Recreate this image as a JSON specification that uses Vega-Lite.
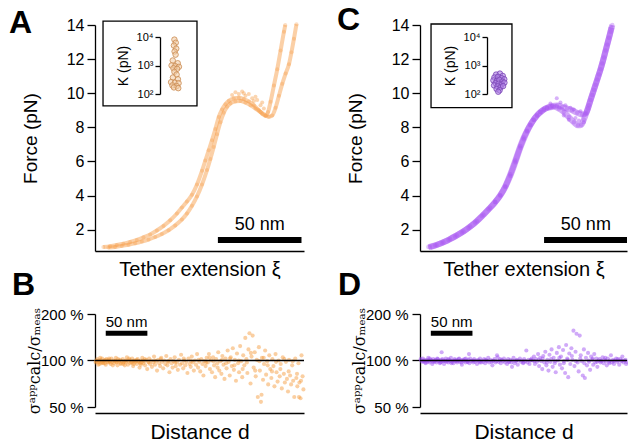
{
"$schema": "https://vega.github.io/schema/vega-lite/v6.json",
"background": "white",
"padding": {"left": 9, "top": 4, "right": 0, "bottom": 0},
"config": {
 "font": "Liberation Sans",
 "view": {"stroke": null},
 "axis": {"domainColor": "black", "tickColor": "black", "labelColor": "black", "titleColor": "black", "domainWidth": 1.3, "tickWidth": 1.3, "grid": false, "labelFont": "Liberation Sans", "titleFont": "Liberation Sans", "titleFontWeight": "normal", "labelOverlap": false},
 "title": {"font": "Liberation Sans", "fontSize": 32, "fontWeight": "bold", "anchor": "start", "frame": "group", "color": "black"}
},
"datasets": {
 "curveA": [
  {"t":1,"x":5,"y":0.98},{"t":1,"x":9,"y":1.03},{"t":1,"x":13,"y":1.1},{"t":1,"x":17,"y":1.18},{"t":1,"x":21,"y":1.28},{"t":1,"x":25,"y":1.4},{"t":1,"x":29,"y":1.55},{"t":1,"x":33,"y":1.72},{"t":1,"x":37,"y":1.95},{"t":1,"x":41,"y":2.22},{"t":1,"x":45,"y":2.55},{"t":1,"x":49,"y":2.95},{"t":1,"x":52,"y":3.3},{"t":1,"x":55,"y":3.65},{"t":1,"x":58,"y":4.05},{"t":1,"x":61,"y":4.65},{"t":1,"x":64,"y":5.45},{"t":1,"x":66,"y":6.05},{"t":1,"x":68,"y":6.65},{"t":1,"x":70,"y":7.25},{"t":1,"x":72,"y":7.9},{"t":1,"x":74,"y":8.6},{"t":1,"x":76,"y":9.05},{"t":1,"x":78,"y":9.35},{"t":1,"x":80,"y":9.55},{"t":1,"x":83,"y":9.7},{"t":1,"x":86,"y":9.73},{"t":1,"x":89,"y":9.66},{"t":1,"x":92,"y":9.52},{"t":1,"x":95,"y":9.3},{"t":1,"x":98,"y":9.0},{"t":1,"x":100,"y":8.8},{"t":1,"x":102,"y":8.68},{"t":1,"x":103.5,"y":8.9},{"t":1,"x":105,"y":9.5},{"t":1,"x":107,"y":10.45},{"t":1,"x":109,"y":11.4},{"t":1,"x":111,"y":12.5},{"t":1,"x":113,"y":13.6},{"t":1,"x":113.8,"y":14.0},
  {"t":2,"x":8,"y":0.95},{"t":2,"x":12,"y":0.99},{"t":2,"x":16,"y":1.05},{"t":2,"x":20,"y":1.12},{"t":2,"x":24,"y":1.2},{"t":2,"x":28,"y":1.3},{"t":2,"x":32,"y":1.42},{"t":2,"x":36,"y":1.57},{"t":2,"x":40,"y":1.75},{"t":2,"x":44,"y":1.97},{"t":2,"x":48,"y":2.25},{"t":2,"x":52,"y":2.6},{"t":2,"x":55,"y":2.95},{"t":2,"x":58,"y":3.4},{"t":2,"x":61,"y":3.95},{"t":2,"x":64,"y":4.65},{"t":2,"x":67,"y":5.5},{"t":2,"x":69,"y":6.15},{"t":2,"x":71,"y":6.85},{"t":2,"x":73,"y":7.6},{"t":2,"x":75,"y":8.3},{"t":2,"x":77,"y":8.85},{"t":2,"x":79,"y":9.2},{"t":2,"x":81,"y":9.4},{"t":2,"x":84,"y":9.52},{"t":2,"x":87,"y":9.55},{"t":2,"x":90,"y":9.45},{"t":2,"x":93,"y":9.3},{"t":2,"x":96,"y":9.1},{"t":2,"x":99,"y":8.9},{"t":2,"x":102,"y":8.7},{"t":2,"x":104,"y":8.62},{"t":2,"x":106,"y":8.7},{"t":2,"x":108,"y":9.15},{"t":2,"x":110,"y":9.85},{"t":2,"x":112,"y":10.55},{"t":2,"x":114,"y":11.15},{"t":2,"x":116,"y":11.7},{"t":2,"x":117.5,"y":12.4},{"t":2,"x":119,"y":13.2},{"t":2,"x":120.5,"y":14.05}
 ],
 "plateauA": [
  {"x":82,"y":9.9},{"x":84,"y":10.05},{"x":86,"y":9.95},{"x":88,"y":10.1},{"x":90,"y":9.85},{"x":92,"y":9.95},{"x":94,"y":9.7},{"x":95,"y":9.55},{"x":97,"y":9.6},{"x":99,"y":9.3},{"x":100,"y":9.45},{"x":101,"y":9.1},{"x":96,"y":9.8},{"x":89,"y":10.0}
 ],
 "curveC": [
  {"t":1,"x":5,"y":0.98},{"t":1,"x":9,"y":1.08},{"t":1,"x":13,"y":1.22},{"t":1,"x":17,"y":1.4},{"t":1,"x":21,"y":1.6},{"t":1,"x":25,"y":1.83},{"t":1,"x":29,"y":2.1},{"t":1,"x":33,"y":2.42},{"t":1,"x":37,"y":2.8},{"t":1,"x":41,"y":3.2},{"t":1,"x":45,"y":3.62},{"t":1,"x":48,"y":4.0},{"t":1,"x":51,"y":4.5},{"t":1,"x":54,"y":5.15},{"t":1,"x":57,"y":5.95},{"t":1,"x":60,"y":6.8},{"t":1,"x":62,"y":7.3},{"t":1,"x":64,"y":7.75},{"t":1,"x":66,"y":8.12},{"t":1,"x":68,"y":8.45},{"t":1,"x":70,"y":8.7},{"t":1,"x":72,"y":8.88},{"t":1,"x":74,"y":9.03},{"t":1,"x":76,"y":9.13},{"t":1,"x":78,"y":9.18},{"t":1,"x":80,"y":9.2},{"t":1,"x":83,"y":9.1},{"t":1,"x":86,"y":8.9},{"t":1,"x":89,"y":8.6},{"t":1,"x":92,"y":8.3},{"t":1,"x":94.5,"y":8.12},{"t":1,"x":96.5,"y":8.15},{"t":1,"x":98,"y":8.45},{"t":1,"x":99.5,"y":8.85},{"t":1,"x":101,"y":9.3},{"t":1,"x":103,"y":9.9},{"t":1,"x":105,"y":10.5},{"t":1,"x":107,"y":11.1},{"t":1,"x":109,"y":11.75},{"t":1,"x":111,"y":12.5},{"t":1,"x":113,"y":13.25},{"t":1,"x":114.5,"y":13.85},
  {"t":2,"x":6,"y":0.98},{"t":2,"x":10,"y":1.1},{"t":2,"x":14,"y":1.26},{"t":2,"x":18,"y":1.45},{"t":2,"x":22,"y":1.67},{"t":2,"x":26,"y":1.9},{"t":2,"x":30,"y":2.18},{"t":2,"x":34,"y":2.5},{"t":2,"x":38,"y":2.88},{"t":2,"x":42,"y":3.28},{"t":2,"x":45,"y":3.62},{"t":2,"x":48,"y":4.02},{"t":2,"x":51,"y":4.55},{"t":2,"x":54,"y":5.25},{"t":2,"x":57,"y":6.05},{"t":2,"x":60,"y":6.9},{"t":2,"x":62,"y":7.4},{"t":2,"x":64,"y":7.8},{"t":2,"x":66,"y":8.15},{"t":2,"x":68,"y":8.45},{"t":2,"x":70,"y":8.7},{"t":2,"x":72,"y":8.9},{"t":2,"x":74,"y":9.05},{"t":2,"x":76,"y":9.15},{"t":2,"x":79,"y":9.25},{"t":2,"x":82,"y":9.28},{"t":2,"x":85,"y":9.2},{"t":2,"x":88,"y":9.1},{"t":2,"x":91,"y":9.0},{"t":2,"x":94,"y":8.85},{"t":2,"x":97,"y":8.75},{"t":2,"x":99,"y":8.8},{"t":2,"x":100.5,"y":9.1},{"t":2,"x":102,"y":9.6},{"t":2,"x":104,"y":10.2},{"t":2,"x":106,"y":10.8},{"t":2,"x":108,"y":11.4},{"t":2,"x":110,"y":12.1},{"t":2,"x":112,"y":12.85},{"t":2,"x":114,"y":13.6},{"t":2,"x":115,"y":14.0}
 ],
 "plateauC": [
  {"x":81.8,"y":9.71},{"x":78,"y":9.4},{"x":84,"y":9.45},{"x":87,"y":9.3},{"x":90,"y":9.15},{"x":86,"y":8.7},{"x":89,"y":8.45},{"x":93,"y":8.55},{"x":95,"y":8.4},{"x":96,"y":8.95},{"x":92,"y":9.05},{"x":98,"y":8.3}
 ],
 "kA": [
  {"x":47.5,"k":8100},{"x":48.3,"k":6300},{"x":47.2,"k":5000},{"x":48.6,"k":3900},{"x":47.6,"k":3100},{"x":48.2,"k":2400},{"x":46.5,"k":1500},{"x":49.5,"k":1200},{"x":45.8,"k":1000},{"x":48.0,"k":950},{"x":50.2,"k":900},{"x":46.9,"k":800},{"x":49.1,"k":760},{"x":47.5,"k":600},{"x":48.8,"k":480},{"x":46.6,"k":380},{"x":49.6,"k":330},{"x":45.5,"k":260},{"x":47.8,"k":250},{"x":50.0,"k":240},{"x":46.3,"k":200},{"x":48.9,"k":190},{"x":47.2,"k":170},{"x":49.8,"k":160}
 ],
 "kC": [
  {"x":45.5,"k":480},{"x":47.8,"k":520},{"x":49.5,"k":430},{"x":44.5,"k":380},{"x":46.6,"k":400},{"x":48.8,"k":360},{"x":50.4,"k":330},{"x":43.9,"k":300},{"x":46.0,"k":290},{"x":47.5,"k":310},{"x":49.3,"k":270},{"x":45.2,"k":240},{"x":47.0,"k":230},{"x":48.9,"k":215},{"x":50.5,"k":250},{"x":44.3,"k":200},{"x":46.4,"k":185},{"x":48.1,"k":170},{"x":49.7,"k":190},{"x":45.8,"k":150},{"x":47.6,"k":135},{"x":46.8,"k":120}
 ],
 "sigB": [
  {"d":1.5,"r":99},{"d":2.6,"r":102},{"d":3.4,"r":97},{"d":4.8,"r":100},{"d":5.5,"r":95},{"d":6.9,"r":101},{"d":7.7,"r":98},{"d":8.6,"r":103},{"d":9.9,"r":96},{"d":10.8,"r":99},{"d":11.6,"r":100},{"d":12.9,"r":94},{"d":13.7,"r":102},{"d":14.8,"r":98},{"d":16.0,"r":97},{"d":16.9,"r":101},{"d":17.6,"r":99},{"d":18.9,"r":95},{"d":19.8,"r":103},{"d":20.7,"r":98},{"d":22.0,"r":100},{"d":22.8,"r":96},{"d":23.9,"r":99},{"d":25.1,"r":104},{"d":25.8,"r":97},{"d":27.0,"r":93},{"d":28.1,"r":100},{"d":28.9,"r":98},{"d":30.2,"r":101},{"d":31.0,"r":96},{"d":32.1,"r":99},{"d":33.3,"r":102},{"d":34.0,"r":95},{"d":35.2,"r":98},{"d":36.4,"r":100},{"d":37.1,"r":97},{"d":38.3,"r":105},{"d":39.5,"r":94},{"d":40.2,"r":99},{"d":41.6,"r":101},{"d":42.5,"r":96},{"d":43.7,"r":98},{"d":44.6,"r":103},{"d":45.8,"r":92},{"d":47.0,"r":100},{"d":47.9,"r":97},{"d":49.1,"r":99},{"d":50.3,"r":95},{"d":51.2,"r":102},{"d":52.6,"r":98},{"d":53.5,"r":90},{"d":54.7,"r":100},{"d":55.9,"r":97},{"d":56.8,"r":104},{"d":58.1,"r":96},{"d":59.3,"r":99},{"d":60.2,"r":93},{"d":61.6,"r":101},{"d":62.7,"r":88},{"d":63.9,"r":98},{"d":65.0,"r":103},{"d":66.1,"r":95},{"d":67.5,"r":100},{"d":68.4,"r":91},{"d":69.8,"r":97},{"d":70.9,"r":106},{"d":72.1,"r":94},{"d":73.4,"r":99},{"d":74.5,"r":86},{"d":75.8,"r":101},{"d":77.0,"r":96},{"d":78.2,"r":92},{"d":79.5,"r":104},{"d":80.6,"r":98},{"d":81.9,"r":89},{"d":83.1,"r":100},{"d":84.4,"r":95},{"d":85.6,"r":107},{"d":86.9,"r":93},{"d":88.1,"r":98},{"d":89.4,"r":84},{"d":90.7,"r":102},{"d":91.9,"r":96},{"d":93.2,"r":90},{"d":94.4,"r":99},{"d":95.7,"r":105},{"d":97.0,"r":92},{"d":98.3,"r":97},{"d":99.5,"r":87},{"d":100.8,"r":101},{"d":102.1,"r":94},{"d":103.4,"r":109},{"d":104.6,"r":96},{"d":105.9,"r":89},{"d":107.2,"r":100},{"d":108.5,"r":93},{"d":109.8,"r":98},{"d":111.0,"r":83},{"d":112.3,"r":103},{"d":113.6,"r":95},{"d":114.9,"r":91},{"d":116.2,"r":106},{"d":117.4,"r":97},{"d":118.7,"r":86},{"d":120.0,"r":100},{"d":121.3,"r":94},{"d":122.6,"r":110},{"d":123.8,"r":90},{"d":125.1,"r":98},{"d":126.4,"r":85},{"d":127.7,"r":102},{"d":129.0,"r":95},{"d":130.2,"r":80},{"d":131.5,"r":99},{"d":132.8,"r":92},{"d":134.1,"r":104},
  {"d":0.8,"r":97},{"d":3.9,"r":94},{"d":6.2,"r":104},{"d":9.1,"r":98},{"d":11.9,"r":96},{"d":15.3,"r":100},{"d":18.2,"r":97},{"d":21.4,"r":93},{"d":24.5,"r":100},{"d":27.6,"r":102},{"d":30.8,"r":95},{"d":33.9,"r":97},{"d":37.8,"r":100},{"d":40.9,"r":103},{"d":44.1,"r":97},{"d":46.5,"r":95},{"d":49.7,"r":101},{"d":52.0,"r":99},{"d":55.1,"r":94},{"d":57.6,"r":100},{"d":2.0,"r":100},{"d":5.1,"r":98},{"d":8.0,"r":96},{"d":12.3,"r":101},{"d":17.0,"r":103},{"d":26.4,"r":98},{"d":35.7,"r":93},{"d":46.2,"r":99},{"d":54.2,"r":96},{"d":59.8,"r":102},{"d":64.5,"r":97},{"d":71.6,"r":100},{"d":78.9,"r":102},{"d":87.5,"r":99},{"d":96.3,"r":97},{"d":106.6,"r":103},{"d":115.5,"r":99},{"d":124.4,"r":101},{"d":133.4,"r":97},
  {"d":135.5,"r":97},{"d":136.8,"r":110},{"d":138.0,"r":88},{"d":139.3,"r":100},{"d":140.5,"r":84},{"d":141.8,"r":105},{"d":143.0,"r":93},{"d":144.3,"r":78},{"d":145.5,"r":102},{"d":146.8,"r":96},{"d":148.0,"r":113},{"d":149.3,"r":86},{"d":150.5,"r":99},{"d":151.8,"r":82},{"d":153.0,"r":107},{"d":154.3,"r":94},{"d":155.5,"r":76},{"d":156.8,"r":103},{"d":158.0,"r":89},{"d":159.3,"r":116},{"d":160.5,"r":98},{"d":161.8,"r":80},{"d":163.0,"r":105},{"d":164.3,"r":92},{"d":165.5,"r":120},{"d":166.8,"r":87},{"d":168.0,"r":101},{"d":169.3,"r":74},{"d":170.5,"r":111},{"d":171.8,"r":96},{"d":173.0,"r":84},{"d":174.3,"r":124},{"d":175.5,"r":99},{"d":176.8,"r":78},{"d":178.0,"r":108},{"d":179.3,"r":93},{"d":180.5,"r":140},{"d":181.8,"r":102},{"d":183.0,"r":83},{"d":184.3,"r":118},{"d":185.5,"r":150},{"d":186.8,"r":71},{"d":188.0,"r":106},{"d":189.3,"r":145},{"d":190.5,"r":90},{"d":191.8,"r":113},{"d":193.0,"r":79},{"d":194.3,"r":101},{"d":195.5,"r":58},{"d":196.8,"r":122},{"d":198.0,"r":86},{"d":199.3,"r":54},{"d":200.5,"r":104},{"d":201.8,"r":75},{"d":203.0,"r":95},{"d":204.3,"r":116},{"d":205.5,"r":81},{"d":206.8,"r":99},{"d":208.0,"r":70},{"d":209.3,"r":108},{"d":210.5,"r":88},{"d":211.8,"r":77},{"d":213.0,"r":102},{"d":214.3,"r":92},{"d":215.5,"r":68},{"d":216.8,"r":110},{"d":218.0,"r":84},{"d":219.3,"r":73},{"d":220.5,"r":100},{"d":221.8,"r":79},{"d":223.0,"r":95},{"d":224.3,"r":66},{"d":225.5,"r":105},{"d":226.8,"r":82},{"d":228.0,"r":72},{"d":229.3,"r":98},{"d":230.5,"r":76},{"d":231.8,"r":63},{"d":233.0,"r":101},{"d":234.3,"r":80},{"d":235.5,"r":70},{"d":236.8,"r":93},{"d":238.0,"r":74},{"d":239.3,"r":58},{"d":240.5,"r":103},{"d":241.8,"r":77},{"d":243.0,"r":68},{"d":244.3,"r":96},{"d":245.5,"r":72},{"d":246.8,"r":57},{"d":248.0,"r":108},{"d":249.3,"r":79},{"d":250.3,"r":65},
  {"d":137.5,"r":104},{"d":142.4,"r":99},{"d":147.2,"r":90},{"d":152.6,"r":101},{"d":157.4,"r":96},{"d":162.2,"r":103},{"d":167.4,"r":93},{"d":172.6,"r":100},{"d":177.3,"r":88},{"d":182.4,"r":97},{"d":187.2,"r":112},{"d":192.4,"r":86},{"d":197.4,"r":99},{"d":202.6,"r":104},{"d":207.4,"r":93},{"d":212.6,"r":85},{"d":217.4,"r":98},{"d":222.6,"r":88},{"d":227.4,"r":102},{"d":232.6,"r":85},{"d":237.4,"r":99},{"d":242.6,"r":82},{"d":247.4,"r":74},{"d":200.0,"r":60},{"d":245.0,"r":58}
 ],
 "sigD": [
  {"d":1.5,"r":100},{"d":2.6,"r":98},{"d":3.4,"r":103},{"d":4.8,"r":99},{"d":5.5,"r":101},{"d":6.9,"r":96},{"d":7.7,"r":100},{"d":8.6,"r":98},{"d":9.9,"r":104},{"d":10.8,"r":99},{"d":11.6,"r":97},{"d":12.9,"r":101},{"d":13.7,"r":100},{"d":14.8,"r":95},{"d":16.0,"r":102},{"d":16.9,"r":99},{"d":17.6,"r":98},{"d":18.9,"r":101},{"d":19.8,"r":97},{"d":20.7,"r":103},{"d":22.0,"r":99},{"d":22.8,"r":100},{"d":23.9,"r":96},{"d":25.1,"r":101},{"d":25.8,"r":98},{"d":27.0,"r":102},{"d":28.1,"r":99},{"d":28.9,"r":95},{"d":30.2,"r":100},{"d":31.0,"r":103},{"d":32.1,"r":98},{"d":33.3,"r":100},{"d":34.0,"r":97},{"d":35.2,"r":101},{"d":36.4,"r":99},{"d":37.1,"r":104},{"d":38.3,"r":98},{"d":39.5,"r":100},{"d":40.2,"r":96},{"d":41.6,"r":102},{"d":42.5,"r":99},{"d":43.7,"r":101},{"d":44.6,"r":97},{"d":45.8,"r":100},{"d":47.0,"r":103},{"d":47.9,"r":98},{"d":49.1,"r":100},{"d":50.3,"r":94},{"d":51.2,"r":101},{"d":52.6,"r":99},{"d":53.5,"r":102},{"d":54.7,"r":97},{"d":55.9,"r":100},{"d":56.8,"r":98},{"d":58.1,"r":101},{"d":59.3,"r":96},{"d":60.2,"r":103},{"d":61.6,"r":99},{"d":62.7,"r":100},{"d":63.9,"r":97},{"d":65.0,"r":102},{"d":66.1,"r":98},{"d":67.5,"r":100},{"d":68.4,"r":95},{"d":69.8,"r":101},{"d":70.9,"r":99},{"d":72.1,"r":103},{"d":73.4,"r":97},{"d":74.5,"r":100},{"d":75.8,"r":98},{"d":77.0,"r":102},{"d":78.2,"r":96},{"d":79.5,"r":100},{"d":80.6,"r":99},{"d":81.9,"r":104},{"d":83.1,"r":97},{"d":84.4,"r":101},{"d":85.6,"r":98},{"d":86.9,"r":93},{"d":88.1,"r":100},{"d":89.4,"r":102},{"d":90.7,"r":97},{"d":91.9,"r":99},{"d":93.2,"r":105},{"d":94.4,"r":98},{"d":95.7,"r":100},{"d":97.0,"r":96},{"d":98.3,"r":101},{"d":99.5,"r":99},{"d":100.8,"r":103},{"d":102.1,"r":97},{"d":103.4,"r":100},{"d":104.6,"r":95},{"d":105.9,"r":102},{"d":107.2,"r":98},{"d":108.5,"r":101},{"d":109.8,"r":97},{"d":111.0,"r":100},{"d":112.3,"r":104},{"d":113.6,"r":96},{"d":114.9,"r":99},{"d":116.2,"r":101},{"d":117.4,"r":94},{"d":118.7,"r":100},{"d":120.0,"r":103},{"d":121.3,"r":98},{"d":122.6,"r":100},{"d":123.8,"r":96},{"d":125.1,"r":102},{"d":126.4,"r":99},{"d":127.7,"r":116},{"d":129.0,"r":97},{"d":130.2,"r":101},{"d":131.5,"r":95},{"d":132.8,"r":100},{"d":134.1,"r":103},
  {"d":0.8,"r":102},{"d":3.9,"r":99},{"d":6.2,"r":97},{"d":9.1,"r":101},{"d":11.9,"r":103},{"d":15.3,"r":98},{"d":18.2,"r":100},{"d":21.4,"r":102},{"d":24.5,"r":97},{"d":27.6,"r":100},{"d":30.8,"r":99},{"d":33.9,"r":102},{"d":37.8,"r":96},{"d":40.9,"r":100},{"d":44.1,"r":99},{"d":46.5,"r":102},{"d":49.7,"r":97},{"d":52.0,"r":100},{"d":55.1,"r":103},{"d":57.6,"r":98},{"d":64.5,"r":100},{"d":71.6,"r":97},{"d":78.9,"r":101},{"d":87.5,"r":99},{"d":96.3,"r":102},{"d":106.6,"r":98},{"d":115.5,"r":100},{"d":124.4,"r":97},{"d":133.4,"r":101},{"d":26.0,"r":113},{"d":58.8,"r":110},{"d":92.5,"r":108},{"d":110.5,"r":91},
  {"d":135.5,"r":100},{"d":136.8,"r":106},{"d":138.0,"r":95},{"d":139.3,"r":102},{"d":140.5,"r":98},{"d":141.8,"r":110},{"d":143.0,"r":92},{"d":144.3,"r":104},{"d":145.5,"r":99},{"d":146.8,"r":88},{"d":148.0,"r":107},{"d":149.3,"r":97},{"d":150.5,"r":114},{"d":151.8,"r":93},{"d":153.0,"r":101},{"d":154.3,"r":86},{"d":155.5,"r":109},{"d":156.8,"r":98},{"d":158.0,"r":118},{"d":159.3,"r":91},{"d":160.5,"r":104},{"d":161.8,"r":96},{"d":163.0,"r":84},{"d":164.3,"r":112},{"d":165.5,"r":100},{"d":166.8,"r":122},{"d":168.0,"r":94},{"d":169.3,"r":106},{"d":170.5,"r":89},{"d":171.8,"r":117},{"d":173.0,"r":99},{"d":174.3,"r":83},{"d":175.5,"r":126},{"d":176.8,"r":103},{"d":178.0,"r":78},{"d":179.3,"r":111},{"d":180.5,"r":95},{"d":181.8,"r":120},{"d":183.0,"r":101},{"d":184.3,"r":156},{"d":185.5,"r":92},{"d":186.8,"r":114},{"d":188.0,"r":149},{"d":189.3,"r":97},{"d":190.5,"r":85},{"d":191.8,"r":145},{"d":193.0,"r":108},{"d":194.3,"r":99},{"d":195.5,"r":80},{"d":196.8,"r":118},{"d":198.0,"r":77},{"d":199.3,"r":104},{"d":200.5,"r":93},{"d":201.8,"r":112},{"d":203.0,"r":98},{"d":204.3,"r":87},{"d":205.5,"r":106},{"d":206.8,"r":101},{"d":208.0,"r":94},{"d":209.3,"r":110},{"d":210.5,"r":97},{"d":211.8,"r":103},{"d":213.0,"r":91},{"d":214.3,"r":100},
  {"d":137.5,"r":99},{"d":142.4,"r":101},{"d":147.2,"r":103},{"d":152.6,"r":97},{"d":157.4,"r":102},{"d":162.2,"r":99},{"d":167.4,"r":104},{"d":172.6,"r":96},{"d":177.3,"r":101},{"d":182.4,"r":107},{"d":187.2,"r":99},{"d":192.4,"r":103},{"d":197.4,"r":96},{"d":202.6,"r":100},{"d":207.4,"r":103},{"d":212.6,"r":98},
  {"d":215.5,"r":102},{"d":216.8,"r":97},{"d":218.0,"r":100},{"d":219.3,"r":105},{"d":220.5,"r":96},{"d":221.8,"r":101},{"d":223.0,"r":99},{"d":224.3,"r":93},{"d":225.5,"r":103},{"d":226.8,"r":98},{"d":228.0,"r":100},{"d":229.3,"r":108},{"d":230.5,"r":97},{"d":231.8,"r":101},{"d":233.0,"r":95},{"d":234.3,"r":100},{"d":235.5,"r":103},{"d":236.8,"r":98},{"d":238.0,"r":100},{"d":239.3,"r":94},{"d":240.5,"r":102},{"d":241.8,"r":99},{"d":243.0,"r":106},{"d":244.3,"r":97},{"d":245.5,"r":100},{"d":246.8,"r":101},{"d":248.0,"r":98},{"d":217.5,"r":99},{"d":222.5,"r":104},{"d":227.5,"r":96},{"d":232.5,"r":99},{"d":237.5,"r":102},{"d":242.5,"r":100},{"d":247.5,"r":95}
 ]
},
"columns": 2,
"bounds": "flush",
"spacing": {"row": 63, "column": 116},
"concat": [
 {
  "width": 209, "height": 226,
  "title": {"text": "A", "dx": -86, "offset": -24},
  "layer": [
   {"layer": [
    {"data": {"name": "curveA"}, "mark": {"type": "line", "strokeWidth": 4, "opacity": 0.5, "color": "#f7a150", "interpolate": "monotone"},
     "encoding": {
      "x": {"field": "x", "type": "quantitative", "scale": {"domain": [0, 125], "nice": false, "zero": false}, "axis": {"ticks": false, "labels": false, "title": "Tether extension ξ", "titleFontSize": 20, "titlePadding": 8}},
      "y": {"field": "y", "type": "quantitative", "scale": {"domain": [0.75, 14], "nice": false, "zero": false}, "axis": {"values": [2,4,6,8,10,12,14], "tickCount": 20, "format": "d", "title": "Force (pN)", "titleFontSize": 19, "titlePadding": 26, "labelFontSize": 16, "tickSize": 8, "labelPadding": 3}},
      "detail": {"field": "t"}}},
    {"data": {"name": "curveA"}, "mark": {"type": "circle", "size": 16, "opacity": 0.35, "color": "#f7a150"},
     "encoding": {"x": {"field": "x", "type": "quantitative"}, "y": {"field": "y", "type": "quantitative"}}},
    {"data": {"name": "plateauA"}, "mark": {"type": "circle", "size": 16, "opacity": 0.45, "color": "#f7a150"},
     "encoding": {"x": {"field": "x", "type": "quantitative"}, "y": {"field": "y", "type": "quantitative"}}},
    {"data": {"values": [{}]}, "mark": {"type": "rect", "fill": "white", "stroke": "black", "strokeWidth": 1.3},
     "encoding": {"x": {"datum": 4.8}, "x2": {"datum": 61}, "y": {"datum": 14.23}, "y2": {"datum": 9.26}}},
    {"data": {"values": [{}]}, "mark": {"type": "rule", "strokeWidth": 6, "color": "black"},
     "encoding": {"x": {"datum": 73.5}, "x2": {"datum": 123.5}, "y": {"datum": 1.39}}},
    {"data": {"values": [{}]}, "mark": {"type": "text", "text": "50 nm", "fontSize": 18, "baseline": "middle", "font": "Liberation Sans"},
     "encoding": {"x": {"datum": 98.5}, "y": {"datum": 2.3}}}
   ]},
   {"data": {"name": "kA"}, "mark": {"type": "circle", "size": 30, "fill": "#f4cfa8", "fillOpacity": 0.6, "stroke": "#c98a50", "strokeWidth": 0.8},
    "encoding": {
     "x": {"field": "x", "type": "quantitative"},
     "y": {"field": "k", "type": "quantitative", "scale": {"type": "log", "domain": [100, 10000], "range": [69, 12], "nice": false}, "axis": {"orient": "left", "offset": -65, "zindex": 2, "values": [100, 1000, 10000], "tickCount": 10, "labelExpr": "datum.value == 100 ? '10²' : datum.value == 1000 ? '10³' : '10⁴'", "labelFontSize": 11, "tickSize": 5, "labelPadding": 2, "title": "K (pN)", "titleFontSize": 14, "titlePadding": 6}}}}
  ],
  "resolve": {"scale": {"y": "independent"}}
 },
 {
  "width": 207, "height": 226,
  "title": {"text": "C", "dx": -83, "offset": -24},
  "layer": [
   {"layer": [
    {"data": {"name": "curveC"}, "mark": {"type": "line", "strokeWidth": 6, "opacity": 0.5, "color": "#a652f2", "interpolate": "monotone"},
     "encoding": {
      "x": {"field": "x", "type": "quantitative", "scale": {"domain": [0, 123.8], "nice": false, "zero": false}, "axis": {"ticks": false, "labels": false, "title": "Tether extension ξ", "titleFontSize": 20, "titlePadding": 8}},
      "y": {"field": "y", "type": "quantitative", "scale": {"domain": [0.75, 14], "nice": false, "zero": false}, "axis": {"values": [2,4,6,8,10,12,14], "tickCount": 20, "format": "d", "title": "Force (pN)", "titleFontSize": 19, "titlePadding": 26, "labelFontSize": 16, "tickSize": 8, "labelPadding": 3}},
      "detail": {"field": "t"}}},
    {"data": {"name": "curveC"}, "mark": {"type": "circle", "size": 20, "opacity": 0.35, "color": "#a652f2"},
     "encoding": {"x": {"field": "x", "type": "quantitative"}, "y": {"field": "y", "type": "quantitative"}}},
    {"data": {"name": "plateauC"}, "mark": {"type": "circle", "size": 16, "opacity": 0.45, "color": "#a652f2"},
     "encoding": {"x": {"field": "x", "type": "quantitative"}, "y": {"field": "y", "type": "quantitative"}}},
    {"data": {"values": [{}]}, "mark": {"type": "rect", "fill": "white", "stroke": "black", "strokeWidth": 1.3},
     "encoding": {"x": {"datum": 6.6}, "x2": {"datum": 55}, "y": {"datum": 14.06}, "y2": {"datum": 9.15}}},
    {"data": {"values": [{}]}, "mark": {"type": "rule", "strokeWidth": 6, "color": "black"},
     "encoding": {"x": {"datum": 74.2}, "x2": {"datum": 123.8}, "y": {"datum": 1.39}}},
    {"data": {"values": [{}]}, "mark": {"type": "text", "text": "50 nm", "fontSize": 18, "baseline": "middle", "font": "Liberation Sans"},
     "encoding": {"x": {"datum": 99.2}, "y": {"datum": 2.3}}}
   ]},
   {"data": {"name": "kC"}, "mark": {"type": "circle", "size": 30, "fill": "#b183e6", "fillOpacity": 0.6, "stroke": "#7a45b5", "strokeWidth": 0.8},
    "encoding": {
     "x": {"field": "x", "type": "quantitative"},
     "y": {"field": "k", "type": "quantitative", "scale": {"type": "log", "domain": [100, 10000], "range": [69, 12], "nice": false}, "axis": {"orient": "left", "offset": -67, "zindex": 2, "values": [100, 1000, 10000], "tickCount": 10, "labelExpr": "datum.value == 100 ? '10²' : datum.value == 1000 ? '10³' : '10⁴'", "labelFontSize": 11, "tickSize": 5, "labelPadding": 2, "title": "K (pN)", "titleFontSize": 14, "titlePadding": 6}}}}
  ],
  "resolve": {"scale": {"y": "independent"}}
 },
 {
  "width": 209, "height": 93,
  "title": {"text": "B", "dx": -83, "offset": 5},
  "layer": [
   {"data": {"name": "sigB"}, "mark": {"type": "circle", "size": 17, "opacity": 0.48, "color": "#f59a3c"},
    "encoding": {
     "x": {"field": "d", "type": "quantitative", "scale": {"domain": [0, 251], "nice": false, "zero": false}, "axis": {"ticks": false, "labels": false, "offset": 6, "title": "Distance d", "titleFontSize": 21, "titlePadding": 8}},
     "y": {"field": "r", "type": "quantitative", "scale": {"type": "log", "domain": [50, 200], "nice": false}, "axis": {"values": [50, 100, 200], "tickCount": 10, "labelExpr": "datum.value + ' %'", "labelFontSize": 15, "tickSize": 8, "labelPadding": 4, "title": "σᵃᵖᵖcalc/σₘₑₐₛ", "titleFont": "DejaVu Serif", "titleFontSize": 16, "titlePadding": -2}}}},
   {"data": {"values": [{}]}, "mark": {"type": "rule", "color": "black", "strokeWidth": 1.3}, "encoding": {"y": {"datum": 100}}},
   {"data": {"values": [{}]}, "mark": {"type": "rule", "strokeWidth": 5, "color": "black"},
    "encoding": {"x": {"datum": 12.9}, "x2": {"datum": 62.9}, "y": {"datum": 150}}},
   {"data": {"values": [{}]}, "mark": {"type": "text", "text": "50 nm", "fontSize": 15, "baseline": "middle", "font": "Liberation Sans"},
    "encoding": {"x": {"datum": 37.9}, "y": {"datum": 177}}}
  ]
 },
 {
  "width": 207, "height": 93,
  "title": {"text": "D", "dx": -82, "offset": 5},
  "layer": [
   {"data": {"name": "sigD"}, "mark": {"type": "circle", "size": 17, "opacity": 0.48, "color": "#9d4ef0"},
    "encoding": {
     "x": {"field": "d", "type": "quantitative", "scale": {"domain": [0, 248.6], "nice": false, "zero": false}, "axis": {"ticks": false, "labels": false, "offset": 6, "title": "Distance d", "titleFontSize": 21, "titlePadding": 8}},
     "y": {"field": "r", "type": "quantitative", "scale": {"type": "log", "domain": [50, 200], "nice": false}, "axis": {"values": [50, 100, 200], "tickCount": 10, "labelExpr": "datum.value + ' %'", "labelFontSize": 15, "tickSize": 8, "labelPadding": 4, "title": "σᵃᵖᵖcalc/σₘₑₐₛ", "titleFont": "DejaVu Serif", "titleFontSize": 16, "titlePadding": -2}}}},
   {"data": {"values": [{}]}, "mark": {"type": "rule", "color": "black", "strokeWidth": 1.3}, "encoding": {"y": {"datum": 100}}},
   {"data": {"values": [{}]}, "mark": {"type": "rule", "strokeWidth": 5, "color": "black"},
    "encoding": {"x": {"datum": 13}, "x2": {"datum": 63}, "y": {"datum": 150}}},
   {"data": {"values": [{}]}, "mark": {"type": "text", "text": "50 nm", "fontSize": 15, "baseline": "middle", "font": "Liberation Sans"},
    "encoding": {"x": {"datum": 38}, "y": {"datum": 177}}}
  ]
 }
]
}
